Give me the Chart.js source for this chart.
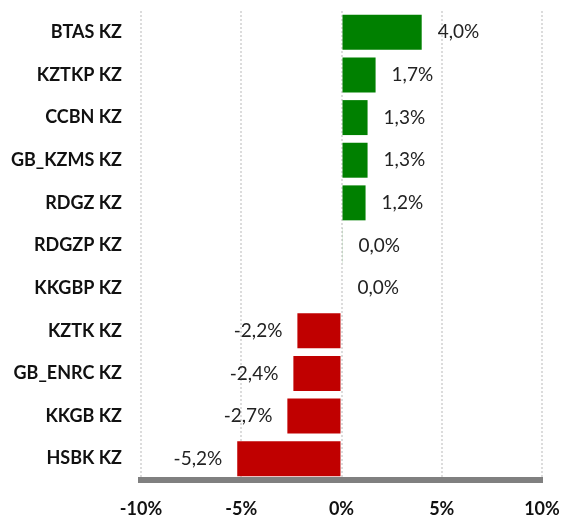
<!DOCTYPE html>
<html lang="en">
<head>
    <meta charset="UTF-8">
    <title>KZ stocks change</title>
    <style>
        body {
            margin: 0;
            background-color: white;
        }
        .wrap {
            width: 562px;
            height: 515px;
        }
    </style>
</head>
<body>
    <div class="wrap">
        <canvas id="chart" width="562" height="515"></canvas>
    </div>

    <script src="https://cdn.jsdelivr.net/npm/chart.js"></script>
    <script>
        // tickers and daily change, %
        const tickers = ['BTAS KZ', 'KZTKP KZ', 'CCBN KZ', 'GB_KZMS KZ', 'RDGZ KZ', 'RDGZP KZ',
            'KKGBP KZ', 'KZTK KZ', 'GB_ENRC KZ', 'KKGB KZ', 'HSBK KZ'];
        const changes = [4.0, 1.7, 1.3, 1.3, 1.2, 0.045, 0.0, -2.2, -2.4, -2.7, -5.2];
        const xTicks = [-10, -5, 0, 5, 10];

        const fontName = 'Lato, "Open Sans", sans-serif';

        function fmt(v) {
            return v.toFixed(1).replace('.', ',') + '%';
        }

        // draw value labels next to the bars
        const valueLabels = {
            id: 'valueLabels',
            afterDatasetsDraw(chart) {
                const ctx = chart.ctx;
                const meta = chart.getDatasetMeta(0);
                const xScale = chart.scales.x;
                ctx.save();
                ctx.font = '19px ' + fontName;
                ctx.fillStyle = '#222222';
                ctx.textBaseline = 'middle';
                meta.data.forEach((bar, i) => {
                    const v = changes[i];
                    if (v >= 0) {
                        ctx.textAlign = 'left';
                        ctx.fillText(fmt(v), Math.max(bar.x, xScale.getPixelForValue(0)) + 16, bar.y);
                    } else {
                        ctx.textAlign = 'right';
                        ctx.fillText(fmt(v), bar.x - 15, bar.y);
                    }
                });
                ctx.restore();
            }
        };

        const ctx = document.getElementById('chart').getContext('2d');
        new Chart(ctx, {
            type: 'bar',
            data: {
                labels: tickers,
                datasets: [{
                    data: changes,
                    backgroundColor: changes.map(v => v >= 0 ? '#008000' : '#C00000'),
                    barPercentage: 1,
                    categoryPercentage: 0.82
                }]
            },
            options: {
                indexAxis: 'y',
                responsive: false,
                animation: false,
                layout: {
                    padding: { top: 11, right: 20, left: 0, bottom: 0 }
                },
                plugins: {
                    legend: { display: false },
                    tooltip: { enabled: false }
                },
                scales: {
                    x: {
                        min: -10,
                        max: 10,
                        afterBuildTicks(scale) {
                            scale.ticks = xTicks.map(v => ({ value: v }));
                        },
                        afterFit(scale) {
                            scale.height = 35;
                            scale.paddingLeft = 0;
                            scale.paddingRight = 0;
                        },
                        grid: {
                            color: '#dcdcdc',
                            lineWidth: 2,
                            drawTicks: false
                        },
                        border: {
                            display: true,
                            color: '#808080',
                            width: 6,
                            dash: [2, 2]
                        },
                        ticks: {
                            padding: 18,
                            color: '#111111',
                            font: { family: fontName, size: 18, weight: 'bold' },
                            callback: v => v + '%'
                        }
                    },
                    y: {
                        afterFit(scale) {
                            scale.width = 141;
                            scale.paddingTop = 0;
                            scale.paddingBottom = 0;
                        },
                        grid: { display: false, drawTicks: false },
                        border: { display: false },
                        ticks: {
                            padding: 19,
                            color: '#111111',
                            font: { family: fontName, size: 18, weight: 'bold' }
                        }
                    }
                }
            },
            plugins: [valueLabels]
        });
    </script>
</body>
</html>
